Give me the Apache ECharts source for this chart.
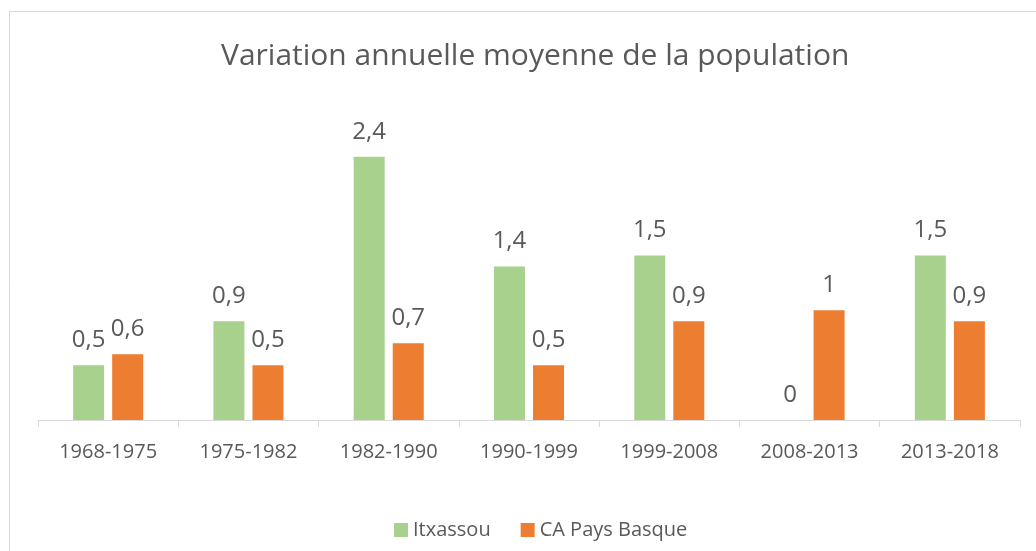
<!DOCTYPE html>
<html><head><meta charset="utf-8">
<script src="https://cdn.jsdelivr.net/npm/echarts@6/dist/echarts.min.js"></script>
<style>html,body{margin:0;padding:0;background:#fff}#c{width:1036px;height:551px}</style>
</head><body><div id="c"></div>
<script>
const categories = ['1968-1975','1975-1982','1982-1990','1990-1999','1999-2008','2008-2013','2013-2018'];
const itxassou = [0.5, 0.9, 2.4, 1.4, 1.5, 0, 1.5];
const caPaysBasque = [0.6, 0.5, 0.7, 0.5, 0.9, 1, 0.9];
const FONT = 'Open Sans';
const TXT = '#595959';
const fmt = p => String(p.value).replace('.', ',');
const chart = echarts.init(document.getElementById('c'));
chart.setOption({
  animation: false,
  textStyle: {fontFamily: FONT},
  title: {text: 'Variation annuelle moyenne de la population', left: 216, top: 36,
    textStyle: {fontFamily: FONT, fontSize: 30, fontWeight: 'normal', color: TXT}},
  graphic: [{type: 'rect', shape: {x: 9.5, y: 11.5, width: 1100, height: 600},
    style: {fill: 'none', stroke: '#d9d9d9', lineWidth: 1}, silent: true}],
  legend: {left: 389, bottom: 6, itemWidth: 14, itemHeight: 14, itemGap: 30, icon: 'rect',
    textStyle: {fontFamily: FONT, fontSize: 20, color: TXT}},
  grid: {left: 38, right: 16, top: 91, bottom: 131, containLabel: false},
  xAxis: {type: 'category', data: categories,
    axisLine: {lineStyle: {color: '#d9d9d9', width: 1}},
    axisTick: {show: true, length: 7, lineStyle: {color: '#d9d9d9'}},
    axisLabel: {fontFamily: FONT, fontSize: 20, color: TXT, margin: 22}},
  yAxis: {type: 'value', min: 0, max: 3, show: false, splitLine: {show: false}},
  series: [
    {name: 'Itxassou', type: 'bar', data: itxassou, barWidth: 31, barGap: '26%',
      itemStyle: {color: '#a9d18e'},
      label: {show: true, position: 'top', distance: 13, formatter: fmt, fontFamily: FONT, fontSize: 24, color: TXT}},
    {name: 'CA Pays Basque', type: 'bar', data: caPaysBasque, barWidth: 31,
      itemStyle: {color: '#ed7d31'},
      label: {show: true, position: 'top', distance: 13, formatter: fmt, fontFamily: FONT, fontSize: 24, color: TXT}}
  ]
});
</script></body></html>
